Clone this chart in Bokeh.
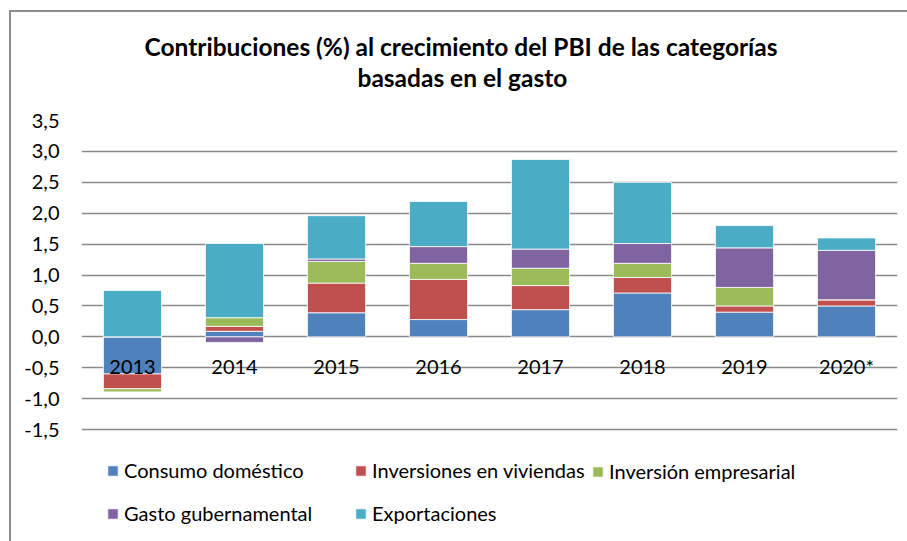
from bokeh.plotting import figure
from bokeh.models import (ColumnDataSource, Range1d, FixedTicker, CustomJSTickFormatter,
                          Legend, LegendItem, Title)
from bokeh.embed import file_html
from bokeh.resources import INLINE

years = ["2013", "2014", "2015", "2016", "2017", "2018", "2019", "2020*"]
consumo = [-0.60, 0.09, 0.39, 0.28, 0.44, 0.71, 0.40, 0.50]
viviendas = [-0.24, 0.08, 0.48, 0.65, 0.39, 0.25, 0.10, 0.10]
empresarial = [-0.05, 0.14, 0.35, 0.26, 0.28, 0.23, 0.30, 0.00]
gasto = [0.00, -0.09, 0.04, 0.27, 0.31, 0.32, 0.64, 0.80]
exportaciones = [0.75, 1.20, 0.70, 0.73, 1.45, 0.99, 0.36, 0.20]

series_names = ["Consumo doméstico", "Inversiones en viviendas", "Inversión empresarial",
                "Gasto gubernamental", "Exportaciones"]
series_vals = [consumo, viviendas, empresarial, gasto, exportaciones]
colors = ["#4F81BD", "#C0504D", "#9BBB59", "#8064A2", "#4BACC6"]
y_ticks = [-1.5, -1.0, -0.5, 0.0, 0.5, 1.0, 1.5, 2.0, 2.5, 3.0, 3.5]
title_lines = ["Contribuciones (%) al crecimiento del PBI de las categorías",
               "basadas en el gasto"]

FONT = "Lato"
FS = "20px"

p = figure(x_range=years, y_range=Range1d(-3.1, 3.5), frame_width=816, frame_height=408,
           output_backend="svg", toolbar_location=None,
           min_border_left=70, min_border_right=10, min_border_bottom=13, min_border_top=108,
           background_fill_color="white", border_fill_color="white")
p.outline_line_color = None
p.title = None
p.styles = {"border-left": "2px solid #8c8c8c", "border-top": "2px solid #8c8c8c",
            "margin-left": "9px", "margin-top": "10px"}

# titles: added nearest-first
p.add_layout(Title(text=title_lines[1], align="left", text_font=FONT, text_font_size="24.5px",
                   text_font_style="bold", text_color="black", standoff=57, offset=276), "above")
p.add_layout(Title(text=title_lines[0], align="left", text_font=FONT, text_font_size="24.5px",
                   text_font_style="bold", text_color="black", standoff=-57, offset=63), "above")

# stacked bars with separate positive / negative stacks
pos = [0.0] * len(years)
neg = [0.0] * len(years)
renderers = []
for name, vals, col in zip(series_names, series_vals, colors):
    bottoms, tops = [], []
    for i, v in enumerate(vals):
        if v >= 0:
            bottoms.append(pos[i]); tops.append(pos[i] + v); pos[i] += v
        else:
            tops.append(neg[i]); bottoms.append(neg[i] + v); neg[i] += v
    src = ColumnDataSource(dict(x=years, bottom=bottoms, top=tops))
    r = p.vbar(x="x", bottom="bottom", top="top", width=0.57, source=src,
               fill_color=col, line_color="white", line_width=0.8)
    renderers.append(r)

# axes
p.yaxis.ticker = FixedTicker(ticks=y_ticks)
p.yaxis.formatter = CustomJSTickFormatter(code="return tick.toFixed(1).replace('.', ',');")
p.yaxis.axis_line_color = None
p.yaxis.major_tick_line_color = None
p.yaxis.minor_tick_line_color = None
p.yaxis.major_label_standoff = 16
p.yaxis.major_label_text_font = FONT
p.yaxis.major_label_text_font_size = FS
p.yaxis.major_label_text_color = "black"

p.xaxis.fixed_location = 0
p.xaxis.axis_line_color = None
p.xaxis.major_tick_line_color = None
p.xaxis.major_label_standoff = 11
p.xaxis.major_label_text_font = FONT
p.xaxis.major_label_text_font_size = FS
p.xaxis.major_label_text_color = "black"

p.xgrid.grid_line_color = None
p.ygrid.ticker = FixedTicker(ticks=y_ticks)
p.ygrid.grid_line_color = "#8a8a8a"
p.ygrid.grid_line_width = 1.5

# legends: three columns placed inside the (extended) frame, below the gridlines
cols = [([0, 3], 25), ([1, 4], 273), ([2], 510)]
for idxs, xoff in cols:
    items = [LegendItem(label=series_names[i], renderers=[renderers[i]]) for i in idxs]
    n = len(idxs)
    leg = Legend(items=items, orientation="vertical", location=(xoff, 3 + (2 - n) * 42),
                 glyph_width=13, glyph_height=13, label_height=20, spacing=19,
                 label_standoff=5, padding=0, margin=0,
                 label_text_font=FONT, label_text_font_size=FS, label_text_color="black",
                 border_line_color=None, background_fill_alpha=0)
    p.add_layout(leg, "center")

open("out.html", "w").write(file_html(p, INLINE))
